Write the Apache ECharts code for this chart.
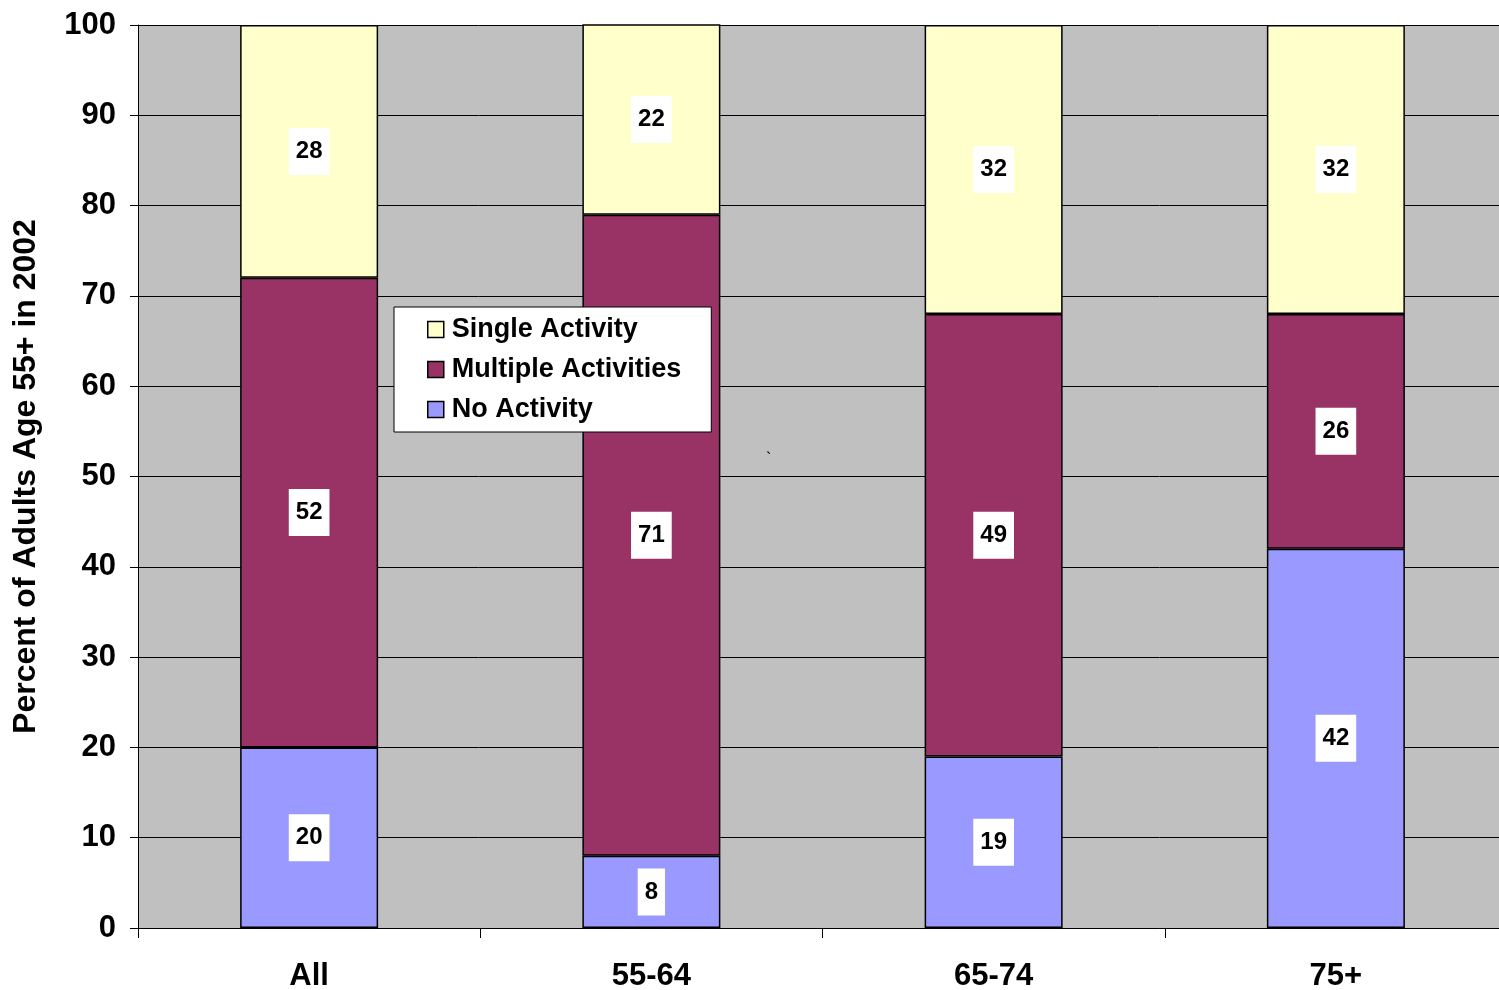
<!DOCTYPE html>
<html>
<head>
<meta charset="utf-8">
<title>Activity of Adults Age 55+ in 2002</title>
<script src="https://cdn.jsdelivr.net/npm/echarts@6/dist/echarts.min.js"></script>
<style>
  html, body { margin: 0; padding: 0; background: #ffffff; overflow: hidden; }
  #chart { width: 1499px; height: 990px; }
</style>
</head>
<body>
<div id="chart"></div>
<script>
// Age groups along the x axis
const categories = ['All', '55-64', '65-74', '75+'];

// Percent of adults in each activity group (stacked bottom to top)
const noActivity = [20, 8, 19, 42];
const multipleActivities = [52, 71, 49, 26];
const singleActivity = [28, 22, 32, 32];

// Y axis range and step
const yMin = 0;
const yMax = 100;
const yStep = 10;

const FONT = '"Liberation Sans", Arial, Helvetica, sans-serif';

const valueLabel = {
  show: true,
  position: 'inside',
  color: '#000',
  fontFamily: FONT,
  fontWeight: 'bold',
  fontSize: 24,
  backgroundColor: '#ffffff',
  padding: [12, 7, 11, 7]
};

function barSeries(name, data, color) {
  return {
    name: name,
    type: 'bar',
    stack: 'total',
    barWidth: 138,
    data: data,
    itemStyle: { color: color, borderColor: '#000', borderWidth: 1.5 },
    label: valueLabel,
    emphasis: { disabled: true }
  };
}

const chart = echarts.init(document.getElementById('chart'), null, { renderer: 'canvas' });

chart.setOption({
  animation: false,
  backgroundColor: '#ffffff',
  textStyle: { fontFamily: FONT },
  // plot area runs slightly past the right edge of the canvas
  grid: {
    left: 138, width: 1369, top: 25, bottom: 62,
    containLabel: false, outerBoundsMode: 'none',
    show: true, backgroundColor: '#C0C0C0', borderWidth: 0
  },
  legend: {
    orient: 'vertical',
    left: 394,
    top: 307,
    data: ['Single Activity', 'Multiple Activities', 'No Activity'],
    backgroundColor: '#ffffff',
    borderColor: '#000',
    borderWidth: 1,
    padding: [9, 30, 9, 33],
    itemWidth: 16,
    itemHeight: 16,
    itemGap: 13,
    icon: 'rect',
    itemStyle: { borderColor: '#000', borderWidth: 1.5 },
    textStyle: { fontFamily: FONT, fontWeight: 'bold', fontSize: 27, color: '#000', padding: [0, 0, 0, 3] },
    selectedMode: false
  },
  xAxis: {
    type: 'category',
    data: categories,
    axisLine: { lineStyle: { color: '#000', width: 1 } },
    axisTick: { show: true, length: 10, lineStyle: { color: '#000' } },
    axisLabel: { color: '#000', fontFamily: FONT, fontWeight: 'bold', fontSize: 31, margin: 33 },
    splitLine: { show: false }
  },
  yAxis: {
    type: 'value',
    min: yMin,
    max: yMax,
    interval: yStep,
    name: 'Percent of Adults Age 55+ in 2002',
    nameLocation: 'middle',
    nameGap: 96,
    nameTextStyle: { color: '#000', fontFamily: FONT, fontWeight: 'bold', fontSize: 32 },
    axisLine: { show: true, lineStyle: { color: '#000', width: 1 } },
    axisTick: { show: true, length: 8, lineStyle: { color: '#000' } },
    axisLabel: { color: '#000', fontFamily: FONT, fontWeight: 'bold', fontSize: 31, margin: 22 },
    splitLine: { show: true, lineStyle: { color: '#000', width: 1 } }
  },
  series: [
    barSeries('No Activity', noActivity, '#9999FF'),
    barSeries('Multiple Activities', multipleActivities, '#993366'),
    barSeries('Single Activity', singleActivity, '#FFFFCC')
  ],
  graphic: [
    { type: 'text', left: 766, top: 452, style: { text: '`', font: '16px ' + FONT, fill: '#000' } }
  ]
});
</script>
</body>
</html>
